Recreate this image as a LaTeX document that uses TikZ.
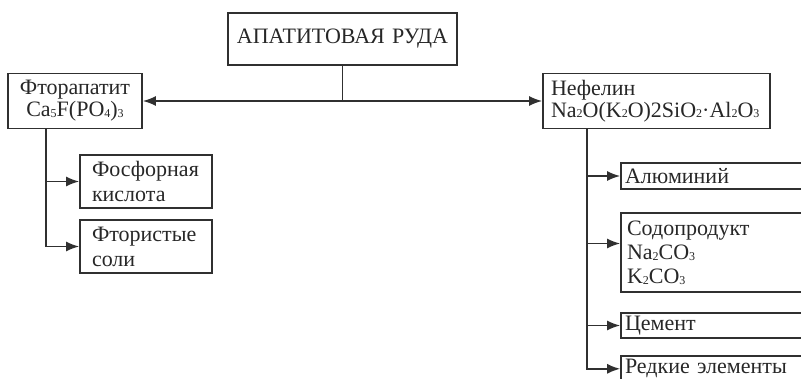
\documentclass[tikz,border=0pt]{standalone}
\usepackage{fontspec}
\setmainfont{Liberation Serif}
\usetikzlibrary{arrows.meta}
\definecolor{ink}{HTML}{303030}
\newcommand\sbs[1]{\raisebox{-0.6pt}{\fontsize{12}{12}\selectfont #1}}
\tikzset{
  box/.style={draw=ink, line width=1.6pt, rectangle, inner ysep=0pt, text=ink!80!black,
    font=\fontsize{22}{22}\selectfont},
  lbox/.style={box, align=left, inner xsep=#1},
  cbox/.style={box, align=center, inner xsep=0pt},
  link/.style={draw=ink, line width=1.7pt},
  arr/.style={link, -{Latex[length=13pt,width=10pt]}}
}
\begin{document}
\begin{tikzpicture}[x=1pt,y=-1pt]
\useasboundingbox (0,0) rectangle (801,379);
\clip (0,0) rectangle (801,379);
% main box
\node[cbox, text width=229pt, minimum height=52pt] (ore) at (342.5,39) {АПАТИТОВАЯ РУДА};
% minerals
\node[cbox, text width=134pt, minimum height=55pt] (fa) at (75,101) {Фторапатит\\Ca\sbs{5}F(PO\sbs{4})\sbs{3}};
\node[lbox=8pt, text width=211pt, minimum height=55pt] (nef) at (656.5,101) {Нефелин\\Na\sbs{2}O(K\sbs{2}O)2SiO\sbs{2}·Al\sbs{2}O\sbs{3}};
% left products
\node[lbox=12pt, text width=108pt, minimum height=53pt, font=\fontsize{22}{25}\selectfont] (fk) at (146,181.5) {Фосфорная\\кислота};
\node[lbox=12pt, text width=108pt, minimum height=53pt, font=\fontsize{22}{25}\selectfont] (fs) at (146,246.5) {Фтористые\\соли};
% right products
\node[lbox=4pt, text width=201pt, minimum height=26pt] (al) at (725.5,176) {Алюминий};
\node[lbox=6pt, text width=197pt, minimum height=79pt, font=\fontsize{22}{24}\selectfont] (soda) at (725.5,252.5) {Содопродукт\\Na\sbs{2}CO\sbs{3}\\K\sbs{2}CO\sbs{3}};
\node[lbox=4pt, text width=201pt, minimum height=25pt] (cem) at (725.5,325.5) {Цемент};
\node[lbox=4pt, text width=201pt, minimum height=26pt, anchor=north] (rare) at (725.5,355) {Редкие элементы};
% connectors
\coordinate (j) at (ore.south |- fa.east);
\draw[link] (ore.south) -- (j);
\draw[arr] (j) -- (fa.east);
\draw[arr] (j) -- (nef.west);
\coordinate (lt) at ([xshift=39pt]fa.south west);
\draw[arr] (lt) |- (fk.west);
\draw[arr] (lt) |- (fs.west);
\coordinate (rt) at ([xshift=45pt]nef.south west);
\draw[arr] (rt) |- (al.west);
\draw[arr] (rt) |- ([yshift=9pt]soda.west);
\draw[arr] (rt) |- (cem.west);
\draw[arr] (rt) |- (rare.west);
\end{tikzpicture}
\end{document}
